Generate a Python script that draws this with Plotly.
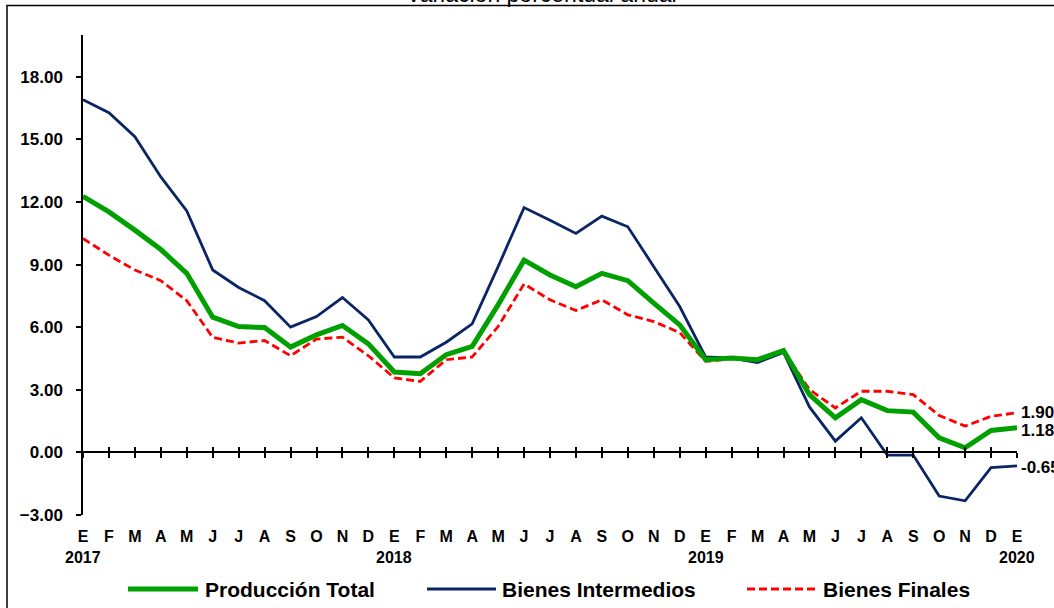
import plotly.graph_objects as go

months = ["E", "F", "M", "A", "M", "J", "J", "A", "S", "O", "N", "D"] * 3 + ["E"]
years = ["2017", "2018", "2019", "2020"]
year_idx = [0, 12, 24, 36]
y_ticks = [-3, 0, 3, 6, 9, 12, 15, 18]

produccion_total = [12.27, 11.52, 10.65, 9.72, 8.58, 6.48, 6.03, 5.98, 5.05, 5.63, 6.08, 5.20,
                    3.85, 3.77, 4.68, 5.08, 7.07, 9.21, 8.50, 7.94, 8.58, 8.23, 7.15, 6.11,
                    4.44, 4.52, 4.44, 4.88, 2.77, 1.66, 2.53, 2.00, 1.93, 0.70, 0.22, 1.05,
                    1.18]
bienes_intermedios = [16.90, 16.28, 15.13, 13.20, 11.57, 8.74, 7.90, 7.27, 6.00, 6.51, 7.42, 6.35,
                      4.57, 4.57, 5.28, 6.16, 8.90, 11.73, 11.12, 10.49, 11.32, 10.81, 8.90, 6.99,
                      4.57, 4.52, 4.31, 4.79, 2.18, 0.54, 1.66, -0.13, -0.13, -2.09, -2.32, -0.73,
                      -0.65]
bienes_finales = [10.25, 9.45, 8.74, 8.23, 7.27, 5.51, 5.24, 5.36, 4.63, 5.43, 5.52, 4.63,
                  3.57, 3.40, 4.44, 4.57, 6.03, 8.07, 7.31, 6.80, 7.31, 6.59, 6.27, 5.74,
                  4.36, 4.49, 4.39, 4.88, 3.01, 2.13, 2.93, 2.93, 2.77, 1.77, 1.26, 1.73,
                  1.90]

W, H = 1054, 608
L, R, T, B = 83, 37, 35, 93
PW, PH = W - L - R, H - T - B


def px(xp):
    return (xp - L) / PW


def py(yp):
    return (H - B - yp) / PH


GREEN = "#00A000"
NAVY = "#0B2463"
RED = "#FF0000"
FONT = "Arial"
idx = list(range(len(months)))

fig = go.Figure()
fig.add_trace(go.Scatter(x=idx, y=bienes_intermedios, mode="lines", name="Bienes Intermedios",
                         line=dict(color=NAVY, width=2.8), showlegend=False))
fig.add_trace(go.Scatter(x=idx, y=bienes_finales, mode="lines", name="Bienes Finales",
                         line=dict(color=RED, width=2.8, dash="8px,4px"), showlegend=False))
fig.add_trace(go.Scatter(x=idx, y=produccion_total, mode="lines", name="Producción Total",
                         line=dict(color=GREEN, width=5), showlegend=False))
# dummy traces to register the zero-line axes
fig.add_trace(go.Scatter(x=[], y=[], xaxis="x2", yaxis="y", showlegend=False, hoverinfo="skip"))
fig.add_trace(go.Scatter(x=[], y=[], xaxis="x3", yaxis="y", showlegend=False, hoverinfo="skip"))

zero_pos = (0 - (-3)) / (20 - (-3))

fig.update_layout(
    width=W, height=H,
    margin=dict(l=L, r=R, t=T, b=B),
    paper_bgcolor="white", plot_bgcolor="white",
    font=dict(family=FONT, color="black"),
    xaxis=dict(range=[0, 36], tickmode="array", tickvals=idx, ticktext=months,
               showline=False, showgrid=False, zeroline=False, ticks="",
               tickfont=dict(family=FONT, size=16, weight="bold", color="black"),
               ticklabelstandoff=10, fixedrange=True),
    xaxis2=dict(range=[0, 36], overlaying="x", anchor="free", position=zero_pos,
                tickmode="array", tickvals=idx, showticklabels=False,
                showline=True, linecolor="black", linewidth=1.5,
                ticks="outside", ticklen=5, tickwidth=1.5, tickcolor="black",
                showgrid=False, zeroline=False),
    xaxis3=dict(range=[0, 36], overlaying="x", anchor="free", position=zero_pos,
                tickmode="array", tickvals=idx, showticklabels=False,
                showline=False, ticks="inside", ticklen=5, tickwidth=1.5, tickcolor="black",
                showgrid=False, zeroline=False),
    yaxis=dict(range=[-3, 20], tickmode="array", tickvals=y_ticks, tickformat=".2f",
               showline=True, linecolor="black", linewidth=1.5,
               ticks="outside", ticklen=5, tickwidth=1.5, tickcolor="black",
               showgrid=False, zeroline=False,
               tickfont=dict(family=FONT, size=17, weight="bold", color="black"),
               ticklabelstandoff=10, fixedrange=True),
)

annotations = []
# title (cut off at the top in the reference)
annotations.append(dict(text="Variación porcentual anual", xref="paper", yref="paper",
                        x=px(541), y=py(-6.5), xanchor="center", yanchor="middle",
                        showarrow=False, font=dict(family=FONT, size=23, color="black")))
# years
for yi, yr in zip(year_idx, years):
    annotations.append(dict(text=yr, x=yi, xref="x", yref="paper", y=py(557),
                            xanchor="center", yanchor="middle", showarrow=False,
                            font=dict(family=FONT, size=16, weight="bold", color="black")))
# end labels
for series, ys in ((bienes_finales, 0), (produccion_total, -3), (bienes_intermedios, -2)):
    v = series[-1]
    annotations.append(dict(text=f"{v:.2f}", x=36, y=v, xref="x", yref="y",
                            xanchor="left", yanchor="middle", xshift=2, yshift=ys,
                            showarrow=False,
                            font=dict(family=FONT, size=17, weight="bold", color="black")))

# manual legend
legend_items = [("Producción Total", GREEN, 5, "solid", 128, 198, 203),
                ("Bienes Intermedios", NAVY, 2.8, "solid", 427, 496, 500),
                ("Bienes Finales", RED, 2.8, "8px,4px", 747, 815, 821)]
shapes = []
LEG_Y = 589
for name, col, wd, dash, x0, x1, xt in legend_items:
    shapes.append(dict(type="line", xref="paper", yref="paper", x0=px(x0), x1=px(x1),
                       y0=py(LEG_Y), y1=py(LEG_Y), line=dict(color=col, width=wd, dash=dash)))
    annotations.append(dict(text=name, xref="paper", yref="paper", x=px(xt), y=py(LEG_Y),
                            xanchor="left", yanchor="middle", showarrow=False,
                            font=dict(family=FONT, size=21, weight="bold", color="black")))

# outer frame (extends past right and bottom edges)
shapes.append(dict(type="rect", xref="paper", yref="paper", x0=px(7), x1=px(1070),
                   y0=py(5.5), y1=py(630), line=dict(color="black", width=1.5),
                   fillcolor="rgba(0,0,0,0)", layer="above"))

fig.update_layout(annotations=annotations, shapes=shapes)
fig.write_html("out.html", config={"displayModeBar": False},
               post_script="document.body.style.margin='0';document.body.style.overflow='hidden';")
